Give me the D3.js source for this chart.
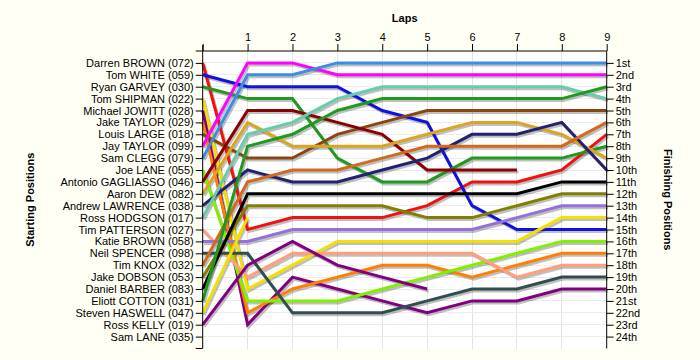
<!DOCTYPE html>
<html><head><meta charset="utf-8">
<script src="https://cdn.jsdelivr.net/npm/d3@7"></script>
<style>
html,body{margin:0;padding:0;background:#fffff4;}
svg{display:block;font-family:"Liberation Sans",Arial,sans-serif;}
</style></head>
<body>
<svg id="chart" width="700" height="360"></svg>
<script>
const laps = [0,1,2,3,4,5,6,7,8,9];
const startNames = ["Darren BROWN (072)","Tom WHITE (059)","Ryan GARVEY (030)","Tom SHIPMAN (022)","Michael JOWITT (028)","Jake TAYLOR (029)","Louis LARGE (018)","Jay TAYLOR (099)","Sam CLEGG (079)","Joe LANE (055)","Antonio GAGLIASSO (046)","Aaron DEW (082)","Andrew LAWRENCE (038)","Ross HODGSON (017)","Tim PATTERSON (027)","Katie BROWN (058)","Neil SPENCER (098)","Tim KNOX (032)","Jake DOBSON (053)","Daniel BARBER (083)","Eliott COTTON (031)","Steven HASWELL (047)","Ross KELLY (019)","Sam LANE (035)"];
const finishLabels = ["1st","2nd","3rd","4th","5th","6th","7th","8th","9th","10th","11th","12th","13th","14th","15th","16th","17th","18th","19th","20th","21st","22nd","23rd","24th"];
const racerColors = ["#ee1111","#1111dd","#1f9a1f","#f2e000","#800080","#ff8000","#8b4513","#ff00ff","#3a8ee6","#80f000","#8b0000","#daa520","#222270","#66cdaa","#ffa07a","#9370db","#2f4f4f","#d2691e","#808000","#000000","#1f9a1f","#f2e000","#800080","#999999"];
// position of each racer (in starting order) at laps 0..9; shorter = retired
const positions = [
  [1,15,14,14,14,13,11,11,10,7],
  [2,3,3,3,5,6,13,15,15,15],
  [3,4,4,9,11,11,9,9,9,8],
  [4,20,18,16,16,16,16,16,14,14],
  [5,23,19,20,21,22,21,21,20,20],
  [6,22,20,19,18,18,19,18,17,17],
  [7,9,9,7,6,5,5,5,5,5],
  [8,1,1,2,2,2,2,2,2,2],
  [9,2,2,1,1,1,1,1,1,1],
  [10,21,21,21,20,19,18,17,16,16],
  [11,5,5,6,7,10,10,10],
  [12,6,8,8,8,7,6,6,7,9],
  [13,10,11,11,10,9,7,7,6,10],
  [14,7,6,4,3,3,3,3,3,4],
  [15,19,17,17,17,17,17,19,18,18],
  [16,16,15,15,15,15,15,14,13,13],
  [17,17,22,22,22,21,20,20,19,19],
  [18,11,10,10,9,8,8,8,8,6],
  [19,13,13,13,13,14,14,13,12,12],
  [20,12,12,12,12,12,12,12,11,11],
  [21,8,7,5,4,4,4,4,4,3],
  [22,14],
  [23,18,16,18,19,20],
  []
];

const svg = d3.select("#chart");
const x = d3.scaleLinear().domain([0,9]).range([202.7,606.7]);
const y = d3.scaleLinear().domain([0,25]).range([51,348.5]);
const posTicks = d3.range(1,25);

// plot background
svg.append("rect").attr("x",x(0)).attr("y",y(0)).attr("width",x(9)-x(0)).attr("height",y(25)-y(0)).attr("fill","#ffffff");

// grid
const g = svg.append("g");
g.selectAll("line.v").data(laps.slice(1,9)).join("line")
  .attr("x1",d=>x(d)).attr("x2",d=>x(d)).attr("y1",y(0)).attr("y2",y(25))
  .attr("stroke","#e4e4e4").attr("stroke-width",1).attr("shape-rendering","crispEdges");
g.selectAll("line.h").data(posTicks).join("line")
  .attr("x1",x(0)).attr("x2",x(9)).attr("y1",d=>y(d)).attr("y2",d=>y(d))
  .attr("stroke","#ececec").attr("stroke-width",1).attr("shape-rendering","crispEdges");

// lines
const line = d3.line().x((d,i)=>x(laps[i])).y(d=>y(d));
const racers = positions.map((p,i)=>({p,c:racerColors[i]})).filter(r=>r.p.length>1);
svg.append("g").attr("transform","translate(1.5,2)").selectAll("path").data(racers).join("path")
  .attr("d",r=>line(r.p)).attr("fill","none").attr("stroke","#000").attr("stroke-opacity",0.25).attr("stroke-width",3);
svg.append("g").selectAll("path").data(racers).join("path")
  .attr("d",r=>line(r.p)).attr("fill","none").attr("stroke",r=>r.c).attr("stroke-width",3);

// axes
const leftAxis = d3.axisLeft(y).tickValues(posTicks).tickSize(7).tickPadding(2).tickFormat(d=>startNames[d-1]);
const rightAxis = d3.axisRight(y).tickValues(posTicks).tickSize(7).tickPadding(2).tickFormat(d=>finishLabels[d-1]);
const topAxis = d3.axisTop(x).tickValues(laps).tickSize(7).tickPadding(3).tickFormat(d=>d===0?"":d);
function style(sel){
  sel.selectAll("path.domain").remove();
  sel.selectAll("text").attr("fill","#000").style("font-size","11px").style("font-family","'Liberation Sans',Arial,sans-serif");
  sel.selectAll("line").attr("stroke","#000");
}
svg.append("g").attr("transform",`translate(${x(0)},0)`).call(leftAxis).call(style);
svg.append("g").attr("transform",`translate(${x(9)},0)`).call(rightAxis).call(style);
svg.append("g").attr("transform",`translate(0,${y(0)})`).call(topAxis).call(style);
// axis lines
svg.append("line").attr("x1",x(0)).attr("x2",x(0)).attr("y1",y(0)-6).attr("y2",y(25)).attr("stroke","#000");
svg.append("line").attr("x1",x(9)).attr("x2",x(9)).attr("y1",y(0)).attr("y2",y(25)).attr("stroke","#000");
svg.append("line").attr("x1",x(0)-7).attr("x2",x(9)).attr("y1",y(0)).attr("y2",y(0)).attr("stroke","#000");
svg.append("line").attr("x1",x(0)-7).attr("x2",x(0)).attr("y1",y(25)).attr("y2",y(25)).attr("stroke","#000");

// titles
svg.append("text").attr("x",(x(0)+x(9))/2).attr("y",22).attr("text-anchor","middle")
  .style("font-size","11px").style("font-weight","bold").text("Laps");
svg.append("text").attr("transform",`translate(34,${(y(0)+y(25))/2}) rotate(-90)`).attr("text-anchor","middle")
  .style("font-size","11px").style("font-weight","bold").text("Starting Positions");
svg.append("text").attr("transform",`translate(664,${(y(0)+y(25))/2}) rotate(90)`).attr("text-anchor","middle")
  .style("font-size","11px").style("font-weight","bold").text("Finishing Positions");
</script>
</body></html>
